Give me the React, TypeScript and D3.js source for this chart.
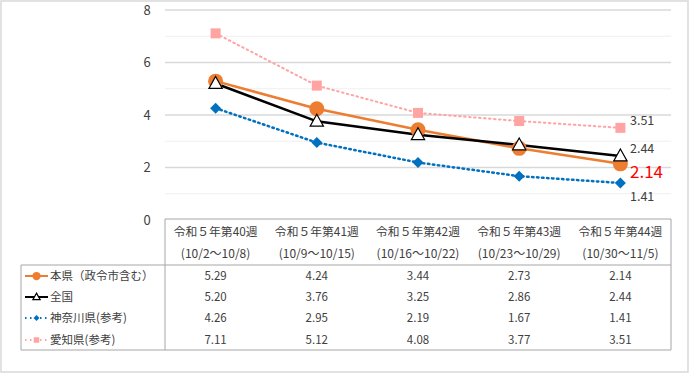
import React from "react";
import * as d3 from "d3";

const categoriesLine1 = ["令和５年第40週", "令和５年第41週", "令和５年第42週", "令和５年第43週", "令和５年第44週"];
const categoriesLine2 = ["(10/2～10/8)", "(10/9～10/15)", "(10/16～10/22)", "(10/23～10/29)", "(10/30～11/5)"];
const seriesNames = ["本県（政令市含む）", "全国", "神奈川県(参考)", "愛知県(参考)"];
const honken = [5.29, 4.24, 3.44, 2.73, 2.14];
const zenkoku = [5.2, 3.76, 3.25, 2.86, 2.44];
const kanagawa = [4.26, 2.95, 2.19, 1.67, 1.41];
const aichi = [7.11, 5.12, 4.08, 3.77, 3.51];
const yTicks = [0, 2, 4, 6, 8];
const seriesValues = [honken, zenkoku, kanagawa, aichi];

const W = 690, H = 375;
const plotL = 165, plotR = 671, plotT = 10, plotB = 220;
const FONT = "'Noto Sans CJK JP', 'Noto Sans', sans-serif";

const styles = [
  { color: "#ED7D31", dash: null, width: 2.5, marker: "circle" },
  { color: "#000000", dash: null, width: 2.5, marker: "triangle" },
  { color: "#0070C0", dash: "1.5 3.5", width: 2.5, marker: "diamond" },
  { color: "#FFA3A3", dash: "1.5 3.5", width: 2, marker: "square" },
];

function Marker({ type, x, y, color, scale = 1 }: any) {
  if (type === "circle") return <circle cx={x} cy={y} r={7.5 * scale} fill={color} />;
  if (type === "triangle") {
    const s = 7 * scale;
    return <path d={`M${x},${y - s}L${x + s * 0.95},${y + s * 0.7}L${x - s * 0.95},${y + s * 0.7}Z`} fill="#fff" stroke="#000" strokeWidth={1.2} />;
  }
  if (type === "diamond") {
    const s = 5.5 * scale;
    return <path d={`M${x},${y - s}L${x + s},${y}L${x},${y + s}L${x - s},${y}Z`} fill={color} />;
  }
  const s = 5 * scale;
  return <rect x={x - s} y={y - s} width={2 * s} height={2 * s} fill={color} />;
}

export default function App() {
  const y = d3.scaleLinear().domain([0, 8]).range([plotB, plotT]);
  const x = d3.scaleBand().domain(categoriesLine1.map((_, i) => String(i))).range([plotL, plotR]);
  const cx = (i: number) => (x(String(i)) as number) + x.bandwidth() / 2;
  const line = d3.line<number>().x((_, i) => cx(i)).y((v) => y(v));
  const gridVals = d3.range(1, 9);
  const rowY = [276, 297, 318, 340];
  const tableTop = 219, headerBottom = 265, tableBottom = 350, legendLeft = 21;
  const last = 4;
  const labels = [
    { v: aichi[last], dy: -7, color: "#404040", size: 12.5 },
    { v: zenkoku[last], dy: -7.5, color: "#404040", size: 12.5 },
    { v: honken[last], dy: 8, color: "#FF0000", size: 17 },
    { v: kanagawa[last], dy: 14, color: "#404040", size: 12.5 },
  ];
  return (
    <svg width={W} height={H} style={{ position: "absolute", left: 0, top: 0, fontFamily: FONT }}>
      <rect x={1} y={1} width={687} height={371} fill="#fff" stroke="#D9D9D9" strokeWidth={1.5} />
      {gridVals.map((g) => (
        <line key={g} x1={plotL} x2={plotR} y1={y(g)} y2={y(g)} stroke={g % 2 === 0 ? "#D9D9D9" : "#EFEFEF"} strokeWidth={g % 2 === 0 ? 1.5 : 1} />
      ))}
      {yTicks.map((t) => (
        <text key={t} x={147} y={y(t)} dy="0.35em" textAnchor="middle" fontSize={13} fill="#404040">{t}</text>
      ))}
      {/* table */}
      <g stroke="#A6A6A6" strokeWidth={1} fill="none">
        <line x1={plotL} x2={plotR} y1={tableTop} y2={tableTop} />
        <line x1={legendLeft} x2={plotR} y1={headerBottom} y2={headerBottom} />
        <line x1={legendLeft} x2={plotR} y1={tableBottom} y2={tableBottom} />
        <line x1={plotL} x2={plotL} y1={tableTop} y2={tableBottom} />
        <line x1={plotR} x2={plotR} y1={tableTop} y2={tableBottom} />
        <line x1={legendLeft} x2={legendLeft} y1={headerBottom} y2={tableBottom} />
      </g>
      {categoriesLine1.map((c, i) => (
        <g key={i}>
          <text x={cx(i)} y={232} dy="0.35em" textAnchor="middle" fontSize={11.8} fill="#404040">{c}</text>
          <text x={cx(i)} y={254} dy="0.35em" textAnchor="middle" fontSize={12} fill="#404040">{categoriesLine2[i]}</text>
        </g>
      ))}
      {seriesValues.map((vals, s) => (
        <g key={s}>
          {vals.map((v, i) => (
            <text key={i} x={cx(i)} y={rowY[s]} dy="0.35em" textAnchor="middle" fontSize={11.5} fill="#404040">{v.toFixed(2)}</text>
          ))}
          <line x1={25} x2={48} y1={rowY[s]} y2={rowY[s]} stroke={styles[s].color} strokeWidth={2} strokeDasharray={styles[s].dash || undefined} />
          <Marker type={styles[s].marker} x={36.5} y={rowY[s]} color={styles[s].color} scale={0.55} />
          <text x={50} y={rowY[s]} dy="0.35em" fontSize={11.5} fill="#404040">{seriesNames[s]}</text>
        </g>
      ))}
      {[3, 2, 0, 1].map((s) => (
        <path key={s} d={line(seriesValues[s]) || ""} fill="none" stroke={styles[s].color} strokeWidth={styles[s].width} strokeDasharray={styles[s].dash || undefined} strokeLinecap="round" />
      ))}
      {[3, 2, 0, 1].map((s) => (
        <g key={"m" + s}>
          {seriesValues[s].map((v, i) => (
            <Marker key={i} type={styles[s].marker} x={cx(i)} y={y(v)} color={styles[s].color} />
          ))}
        </g>
      ))}
      {labels.map((l, i) => (
        <text key={i} x={630} y={y(l.v) + l.dy} dy="0.35em" fontSize={l.size} fill={l.color}>{l.v.toFixed(2)}</text>
      ))}
    </svg>
  );
}
